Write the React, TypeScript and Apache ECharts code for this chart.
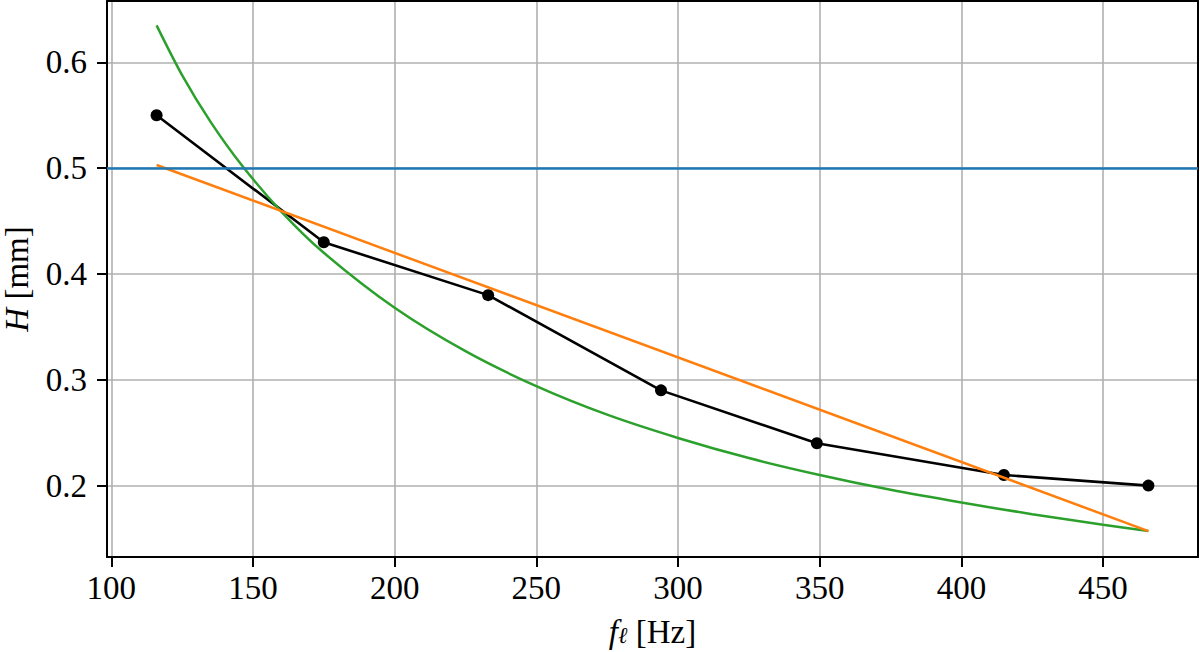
import React, { useEffect, useRef } from "react";
import * as echarts from "echarts";

// Measured data (black markers + line)
const measuredFreq = [116, 175, 233, 294, 349, 415, 466];
const measuredH = [0.55, 0.43, 0.38, 0.29, 0.24, 0.21, 0.2];

// Linear fit (orange), read at its two ends
const linearFreq = [116, 466];
const linearH = [0.503, 0.157];

// Curved fit (green)
const curveFreq = [116, 125, 135, 146, 160, 175, 200, 225, 250, 275, 300, 325, 350, 375, 400, 425, 450, 466];
const curveH = [0.635, 0.588, 0.544, 0.503, 0.459, 0.42, 0.368, 0.327, 0.294, 0.267, 0.245, 0.226, 0.21, 0.196, 0.184, 0.173, 0.163, 0.157];

// Horizontal reference level (blue)
const thresholdH = 0.5;

// Axes
const xTicks = [100, 150, 200, 250, 300, 350, 400, 450];
const yTicks = [0.2, 0.3, 0.4, 0.5, 0.6];
const xRange = [98.5, 483.5];
const yRange = [0.1325, 0.658];

const FONT = "Liberation Serif";

const pairs = (xs: number[], ys: number[]) => xs.map((x, i) => [x, ys[i]]);

export default function App() {
  const ref = useRef<HTMLDivElement>(null);

  useEffect(() => {
    document.body.style.margin = "0";
    if (!ref.current) return;
    const chart = echarts.init(ref.current, undefined, { renderer: "svg" });
    const axisLineStyle = { color: "#000", width: 2 };
    chart.setOption({
      animation: false,
      backgroundColor: "#fff",
      grid: { left: 107, right: 2, top: 1, bottom: 95, containLabel: false, outerBoundsMode: "none" },
      xAxis: [
        {
          type: "value",
          min: xRange[0],
          max: xRange[1],
          position: "bottom",
          axisLine: { show: true, onZero: false, lineStyle: axisLineStyle },
          axisTick: { show: true, length: 10, lineStyle: { color: "#000", width: 2 }, customValues: xTicks },
          axisLabel: {
            customValues: xTicks,
            margin: 14,
            fontFamily: FONT,
            fontSize: 33,
            color: "#000",
          },
          splitLine: { show: true, lineStyle: { color: "#b0b0b0", width: 1.6 } },
          name: "{i|f}{s|ℓ}{n| [Hz]}",
          nameLocation: "middle",
          nameGap: 57,
          nameTextStyle: {
            color: "#000",
            fontFamily: FONT,
            fontSize: 33,
            lineHeight: 36,
            rich: {
              i: { fontFamily: FONT, fontSize: 33, fontStyle: "italic", color: "#000", lineHeight: 36 },
              s: { fontFamily: FONT, fontSize: 23, fontStyle: "italic", color: "#000", padding: [7, 0, 0, 0] },
              n: { fontFamily: FONT, fontSize: 33, color: "#000", lineHeight: 36 },
            },
          },
        },
        {
          type: "value",
          min: xRange[0],
          max: xRange[1],
          position: "top",
          axisLine: { show: true, onZero: false, lineStyle: axisLineStyle },
          axisTick: { show: false },
          axisLabel: { show: false },
          splitLine: { show: false },
        },
      ],
      yAxis: [
        {
          type: "value",
          min: yRange[0],
          max: yRange[1],
          position: "left",
          axisLine: { show: true, onZero: false, lineStyle: axisLineStyle },
          axisTick: { show: true, length: 10, lineStyle: { color: "#000", width: 2 }, customValues: yTicks },
          axisLabel: {
            customValues: yTicks,
            margin: 20,
            fontFamily: FONT,
            fontSize: 33,
            color: "#000",
          },
          splitLine: { show: true, lineStyle: { color: "#b0b0b0", width: 1.6 } },
          name: "{i|H}{n| [mm]}",
          nameLocation: "middle",
          nameGap: 74,
          nameTextStyle: {
            color: "#000",
            fontFamily: FONT,
            fontSize: 33,
            rich: {
              i: { fontFamily: FONT, fontSize: 33, fontStyle: "italic", color: "#000" },
              n: { fontFamily: FONT, fontSize: 33, color: "#000" },
            },
          },
        },
        {
          type: "value",
          min: yRange[0],
          max: yRange[1],
          position: "right",
          axisLine: { show: true, onZero: false, lineStyle: axisLineStyle },
          axisTick: { show: false },
          axisLabel: { show: false },
          splitLine: { show: false },
        },
      ],
      series: [
        {
          type: "line",
          name: "threshold",
          data: [],
          xAxisIndex: 0,
          yAxisIndex: 0,
          z: 1,
          markLine: {
            silent: true,
            symbol: ["none", "none"],
            label: { show: false },
            lineStyle: { color: "#1f77b4", width: 2.5, type: "solid" },
            data: [{ yAxis: thresholdH }],
          },
        },
        {
          type: "line",
          name: "measured",
          data: pairs(measuredFreq, measuredH),
          xAxisIndex: 0,
          yAxisIndex: 0,
          z: 2,
          symbol: "circle",
          symbolSize: 12,
          showSymbol: true,
          itemStyle: { color: "#000" },
          lineStyle: { color: "#000", width: 2.6 },
        },
        {
          type: "line",
          name: "curve",
          data: pairs(curveFreq, curveH),
          xAxisIndex: 0,
          yAxisIndex: 0,
          z: 3,
          smooth: 0.3,
          symbol: "none",
          lineStyle: { color: "#2ca02c", width: 2.5 },
        },
        {
          type: "line",
          name: "linear",
          data: pairs(linearFreq, linearH),
          xAxisIndex: 0,
          yAxisIndex: 0,
          z: 4,
          symbol: "none",
          lineStyle: { color: "#ff7f0e", width: 2.5 },
        },
      ],
    });
    return () => chart.dispose();
  }, []);

  return <div ref={ref} style={{ width: 1200, height: 652 }} />;
}
